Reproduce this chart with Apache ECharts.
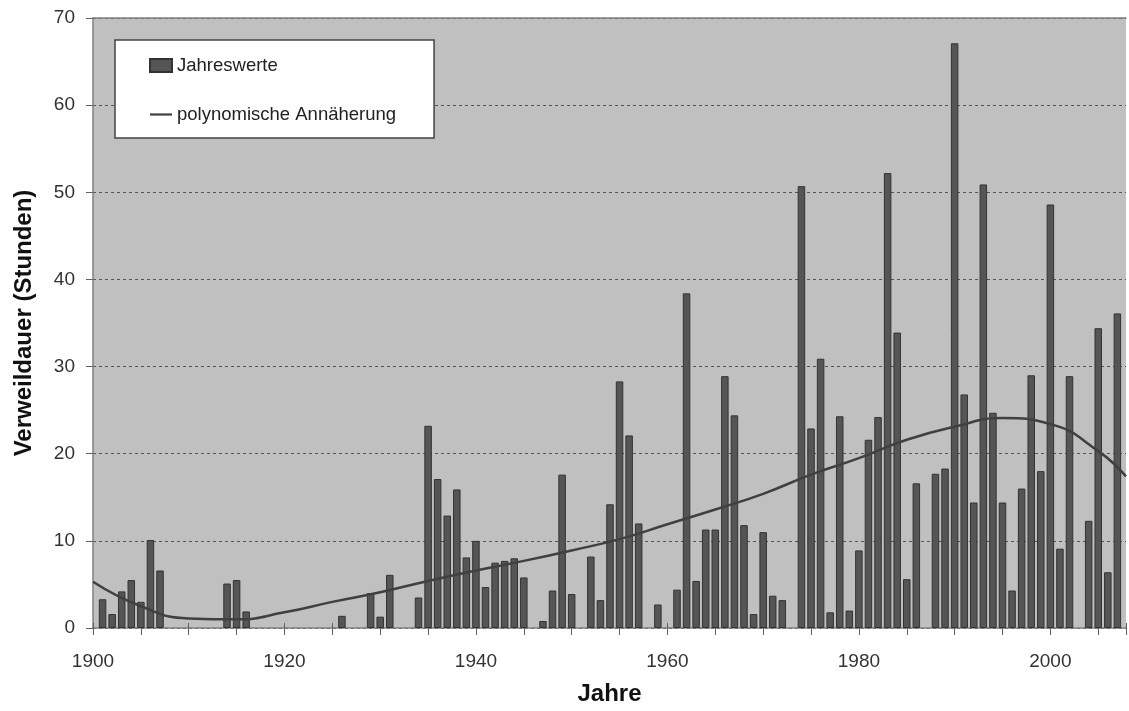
<!DOCTYPE html>
<html>
<head>
<meta charset="utf-8">
<script src="https://cdn.jsdelivr.net/npm/echarts@6/dist/echarts.min.js"></script>
<style>
html,body{margin:0;padding:0;background:#fff;overflow:hidden;}
#chart{width:1129px;height:711px;}
</style>
</head>
<body>
<div id="chart"></div>
<script>
// Bar data: year and value (hours)
var years = [1901,1902,1903,1904,1905,1906,1907,1914,1915,1916,1926,1929,1930,1931,1934,1935,1936,1937,1938,1939,1940,1941,1942,1943,1944,1945,1947,1948,1949,1950,1952,1953,1954,1955,1956,1957,1959,1961,1962,1963,1964,1965,1966,1967,1968,1969,1970,1971,1972,1974,1975,1976,1977,1978,1979,1980,1981,1982,1983,1984,1985,1986,1988,1989,1990,1991,1992,1993,1994,1995,1996,1997,1998,1999,2000,2001,2002,2004,2005,2006,2007];
var values = [3.3,1.6,4.2,5.5,3.0,10.1,6.6,5.1,5.5,1.9,1.4,4.0,1.3,6.1,3.5,23.2,17.1,12.9,15.9,8.1,10.0,4.7,7.5,7.7,8.0,5.8,0.8,4.3,17.6,3.9,8.2,3.2,14.2,28.3,22.1,12.0,2.7,4.4,38.4,5.4,11.3,11.3,28.9,24.4,11.8,1.6,11.0,3.7,3.2,50.7,22.9,30.9,1.8,24.3,2.0,8.9,21.6,24.2,52.2,33.9,5.6,16.6,17.7,18.3,67.1,26.8,14.4,50.9,24.7,14.4,4.3,16.0,29.0,18.0,48.6,9.1,28.9,12.3,34.4,6.4,36.1];
// Polynomial trend line
var trendYears = [1900,1905,1910,1915,1920,1925,1930,1935,1940,1945,1950,1955,1960,1965,1970,1975,1980,1985,1990,1995,2000,2005,2007.9];
var trendValues = [5.3,2.5,1.1,1.0,1.8,3.0,4.1,5.4,6.6,7.7,8.9,10.2,11.9,13.6,15.4,17.6,19.5,21.6,23.1,24.1,23.4,20.3,17.4];
var xTickLabels = [1900,1920,1940,1960,1980,2000];
var yTickValues = [0,10,20,30,40,50,60,70];

var seriesNames = ['Jahreswerte','polynomische Annäherung'];

var barData = years.map(function(y,i){return [y, values[i]];});
var lineData = trendYears.map(function(y,i){return [y, trendValues[i]];});

var chart = echarts.init(document.getElementById('chart'), null, {renderer:'canvas', width:1129, height:711});
var font = '"Liberation Sans", Arial, sans-serif';
var xMin = 1900, xMax = 2007.9;
chart.setOption({
  animation:false,
  backgroundColor:'#ffffff',
  textStyle:{fontFamily:font},
  grid:{left:93,width:1038,top:18,bottom:80,show:true,backgroundColor:'#c0c0c0',borderWidth:0},
  legend:{
    left:115, top:40, orient:'vertical',
    backgroundColor:'#ffffff', borderColor:'#444444', borderWidth:1.5,
    padding:[16,38,14,34], itemGap:30, itemWidth:22, itemHeight:13,
    textStyle:{fontFamily:font,fontSize:18.5,color:'#222',lineHeight:16},
    data:[{name:seriesNames[0],icon:'rect'},{name:seriesNames[1],icon:'path://M0,0H22V2.2H0Z'}]
  },
  xAxis:[{
    type:'value', min:xMin, max:xMax, interval:5,
    name:'Jahre', nameLocation:'middle', nameGap:54,
    nameTextStyle:{fontFamily:font,fontSize:24,fontWeight:'bold',color:'#111'},
    axisLine:{show:true,lineStyle:{color:'#808080',width:1.5}},
    axisTick:{show:true,length:7,lineStyle:{color:'#606060'}},
    axisLabel:{margin:24,fontSize:19,color:'#333',fontFamily:font,
      formatter:function(v){return xTickLabels.indexOf(v)>=0 ? String(v) : '';}},
    splitLine:{show:false}
  },{
    type:'value', min:xMin, max:xMax, interval:5, position:'bottom', offset:0,
    axisLine:{show:false},
    axisTick:{show:true,inside:true,length:5,lineStyle:{color:'#606060'}},
    axisLabel:{show:false},
    splitLine:{show:false}
  },{
    type:'value', min:xMin, max:xMax, position:'top', offset:0,
    axisLine:{show:true,lineStyle:{color:'#808080',width:1.5}},
    axisTick:{show:false}, axisLabel:{show:false}, splitLine:{show:false}
  }],
  yAxis:{
    type:'value', min:0, max:70, interval:10,
    name:'Verweildauer (Stunden)', nameLocation:'middle', nameGap:57,
    nameTextStyle:{fontFamily:font,fontSize:24,fontWeight:'bold',color:'#111'},
    axisLine:{show:true,lineStyle:{color:'#808080',width:1.5}},
    axisTick:{show:true,length:7,lineStyle:{color:'#606060'}},
    axisLabel:{margin:18,fontSize:19,color:'#333',fontFamily:font,
      formatter:function(v){return yTickValues.indexOf(v)>=0 ? String(v) : '';}},
    splitLine:{show:true,lineStyle:{color:'#555555',type:[3,3],width:1}}
  },
  series:[
    {name:seriesNames[0], type:'bar', xAxisIndex:0, data:barData, barWidth:7.5,
     itemStyle:{color:'#555555',borderColor:'#333333',borderWidth:1}},
    {name:seriesNames[1], type:'line', xAxisIndex:0, data:lineData, smooth:true, symbol:'none', showSymbol:false,
     lineStyle:{color:'#404040',width:2.5}, itemStyle:{color:'#404040'}}
  ]
});
</script>
</body>
</html>
